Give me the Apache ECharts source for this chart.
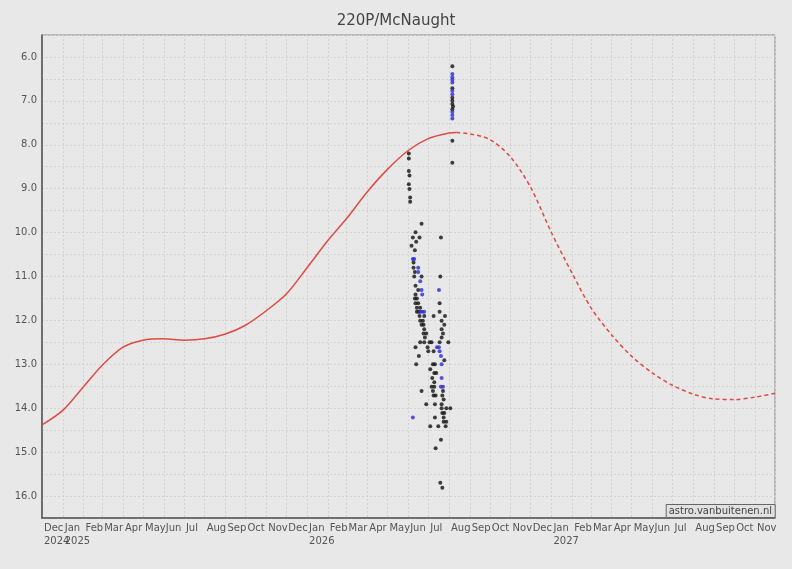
<!DOCTYPE html>
<html>
<head>
<meta charset="utf-8">
<script src="https://cdn.jsdelivr.net/npm/echarts@6/dist/echarts.min.js"></script>
<style>
html,body{margin:0;padding:0;background:#e8e8e8;}
#chart{width:792px;height:569px;}
</style>
</head>
<body>
<div id="chart"></div>
<script>
// ---- data ----
const monthNames = ['Jan','Feb','Mar','Apr','May','Jun','Jul','Aug','Sep','Oct','Nov','Dec'];
const yTicks = [6,7,8,9,10,11,12,13,14,15,16];

const curveDates = ['2024-12-01','2025-01-01','2025-02-01','2025-03-01','2025-04-01','2025-05-01','2025-06-01','2025-07-01','2025-08-01','2025-09-01','2025-10-01','2025-11-01','2025-12-01','2026-01-01','2026-02-01','2026-03-01','2026-04-01','2026-05-01','2026-06-01','2026-07-01','2026-08-01','2026-08-12'];
const curveMags  = [14.38,14.05,13.51,13.02,12.61,12.45,12.42,12.45,12.42,12.31,12.11,11.78,11.40,10.80,10.18,9.68,9.07,8.56,8.13,7.86,7.73,7.72];

const predDates = ['2026-08-12','2026-09-01','2026-10-01','2026-11-01','2026-12-01','2027-01-01','2027-02-01','2027-03-01','2027-04-01','2027-05-01','2027-06-01','2027-07-01','2027-08-01','2027-09-01','2027-10-01','2027-11-01','2027-12-01'];
const predMags  = [7.72,7.75,7.88,8.28,8.97,10.00,10.93,11.71,12.33,12.82,13.20,13.48,13.68,13.79,13.80,13.75,13.66];

const obsBlack = [
 ['2026-06-02',8.20],['2026-06-02',8.31],['2026-06-02',8.60],['2026-06-03',8.70],['2026-06-02',8.90],['2026-06-03',9.01],['2026-06-04',9.20],['2026-06-04',9.30],
 ['2026-08-06',6.21],['2026-08-06',6.71],['2026-08-06',6.93],['2026-08-06',7.00],['2026-08-06',7.07],['2026-08-07',7.13],['2026-08-06',7.19],['2026-08-06',7.91],['2026-08-06',8.41],
 ['2026-06-21',9.80],['2026-06-12',9.99],['2026-06-08',10.11],['2026-06-18',10.11],['2026-07-20',10.11],['2026-06-13',10.21],['2026-06-06',10.30],['2026-06-11',10.40],
 ['2026-06-09',10.68],['2026-06-09',10.80],['2026-06-11',10.90],['2026-06-10',11.00],['2026-06-21',11.00],['2026-07-19',11.00],['2026-06-12',11.21],['2026-06-16',11.31],
 ['2026-06-12',11.41],['2026-06-11',11.50],['2026-06-14',11.50],['2026-06-12',11.61],['2026-06-16',11.61],['2026-07-18',11.61],['2026-06-14',11.71],['2026-06-19',11.71],
 ['2026-06-14',11.80],['2026-06-17',11.80],['2026-07-18',11.80],['2026-06-18',11.90],['2026-06-25',11.90],['2026-07-09',11.90],['2026-07-26',11.90],
 ['2026-06-19',12.01],['2026-06-23',12.01],['2026-07-21',12.01],['2026-06-21',12.10],['2026-06-24',12.10],['2026-07-25',12.10],['2026-06-25',12.20],['2026-07-21',12.20],
 ['2026-06-24',12.30],['2026-06-28',12.30],['2026-07-23',12.30],['2026-06-26',12.39],['2026-07-21',12.39],
 ['2026-06-19',12.50],['2026-06-25',12.50],['2026-07-03',12.50],['2026-07-06',12.50],['2026-07-18',12.50],['2026-07-31',12.50],
 ['2026-06-12',12.61],['2026-06-30',12.61],['2026-07-01',12.70],['2026-07-09',12.70],
 ['2026-06-17',12.81],['2026-07-25',12.91],['2026-06-13',13.00],['2026-07-08',13.00],['2026-07-11',13.00],['2026-07-04',13.11],['2026-07-10',13.20],['2026-07-13',13.20],
 ['2026-07-07',13.31],['2026-07-10',13.41],['2026-07-06',13.51],['2026-07-10',13.51],['2026-06-21',13.61],['2026-07-08',13.61],['2026-07-23',13.61],
 ['2026-07-09',13.71],['2026-07-12',13.71],['2026-07-22',13.71],['2026-07-24',13.80],['2026-06-28',13.91],['2026-07-11',13.91],['2026-07-21',13.91],
 ['2026-07-21',14.00],['2026-07-28',14.00],['2026-08-03',14.00],['2026-07-22',14.11],['2026-07-25',14.11],['2026-07-11',14.21],['2026-07-24',14.21],
 ['2026-07-24',14.31],['2026-07-28',14.31],['2026-07-04',14.41],['2026-07-16',14.41],['2026-07-27',14.41],['2026-07-20',14.72],['2026-07-12',14.91],
 ['2026-07-19',15.70],['2026-07-22',15.81]
];
const obsBlue = [
 ['2026-08-06',6.39],['2026-08-06',6.46],['2026-08-06',6.52],['2026-08-06',6.58],['2026-08-06',6.77],['2026-08-06',6.85],['2026-08-06',7.25],['2026-08-06',7.32],['2026-08-06',7.40],
 ['2026-06-08',10.60],['2026-06-10',10.60],['2026-06-16',10.80],['2026-06-16',10.90],['2026-06-19',11.11],['2026-06-21',11.31],['2026-07-17',11.31],['2026-06-22',11.41],
 ['2026-06-19',11.80],['2026-06-22',11.80],['2026-06-25',11.80],['2026-07-14',12.61],['2026-07-17',12.61],['2026-07-18',12.70],
 ['2026-07-20',12.81],['2026-07-21',13.00],['2026-07-21',13.31],['2026-07-20',13.51],['2026-07-23',13.51],['2026-06-08',14.21]
];

const xMin = '2024-12-01';
const xMax = '2027-12-01';
const yMin = 5.5, yMax = 16.5;

// ---- chart ----
const chart = echarts.init(document.getElementById('chart'), null, {renderer:'canvas'});
const font = 'DejaVu Sans';
const maxTime = new Date(2027, 11, 1).getTime();
const DAY = 86400000;

chart.setOption({
  backgroundColor: '#e8e8e8',
  animation: false,
  textStyle: {fontFamily: font},
  title: [{
    text: '220P/McNaught',
    left: 'center', top: 9,
    textStyle: {fontFamily: font, fontSize: 15, fontWeight: 'normal', color: '#444'}
  }, {
    text: 'astro.vanbuitenen.nl',
    right: 17, bottom: 51,
    padding: [2, 3, 2, 3],
    borderColor: '#666', borderWidth: 1,
    backgroundColor: '#e2e2e2',
    textStyle: {fontFamily: font, fontSize: 10, fontWeight: 'normal', color: '#444'}
  }],
  grid: {left: 42, top: 35, right: 17, bottom: 51, show: true, borderColor: '#8a8a8a', borderWidth: 1, backgroundColor: 'transparent'},
  xAxis: {
    type: 'time',
    min: xMin, max: xMax,
    minInterval: 36 * DAY,
    maxInterval: 40 * DAY,
    splitNumber: 30,
    axisLine: {show: true, lineStyle: {color: '#555', width: 1.5}},
    axisTick: {show: false},
    splitLine: {show: true, lineStyle: {color: '#d2d2d2', type: [2, 2], width: 1}},
    axisLabel: {
      show: true,
      align: 'left',
      margin: 4,
      padding: [0, 0, 0, 2],
      fontSize: 10,
      lineHeight: 13,
      color: '#555',
      fontFamily: font,
      showMaxLabel: false,
      hideOverlap: false,
      formatter: function (value) {
        const d = new Date(value);
        if (d.getTime() >= maxTime) return '';
        const m = monthNames[d.getMonth()];
        if (d.getMonth() === 0 || (d.getFullYear() === 2024 && d.getMonth() === 11)) {
          return m + '\n' + d.getFullYear();
        }
        return m;
      }
    }
  },
  yAxis: {
    type: 'value',
    inverse: true,
    min: yMin, max: yMax, interval: 0.5,
    axisLine: {show: true, lineStyle: {color: '#555', width: 1.5}},
    axisTick: {show: false},
    splitLine: {show: true, lineStyle: {color: '#d4d4d4', type: [2, 2], width: 1}},
    axisLabel: {
      margin: 5,
      fontSize: 10,
      color: '#555',
      fontFamily: font,
      showMinLabel: false, showMaxLabel: false,
      formatter: function (v) {
        return yTicks.indexOf(v) >= 0 ? v.toFixed(1) : '';
      }
    }
  },
  series: [{
    type: 'line',
    data: curveDates.map((d, i) => [d, curveMags[i]]),
    showSymbol: false,
    smooth: 0.3,
    lineStyle: {color: '#e04a44', width: 1.5},
    z: 2
  }, {
    type: 'line',
    data: predDates.map((d, i) => [d, predMags[i]]),
    showSymbol: false,
    smooth: 0.3,
    lineStyle: {color: '#e04a44', width: 1.5, type: [4, 3]},
    z: 2
  }, {
    type: 'scatter',
    data: obsBlack,
    symbolSize: 4,
    itemStyle: {color: '#111'},
    z: 3
  }, {
    type: 'scatter',
    data: obsBlue,
    symbolSize: 4,
    itemStyle: {color: '#2a2ad8'},
    z: 3
  }]
});
</script>
</body>
</html>
